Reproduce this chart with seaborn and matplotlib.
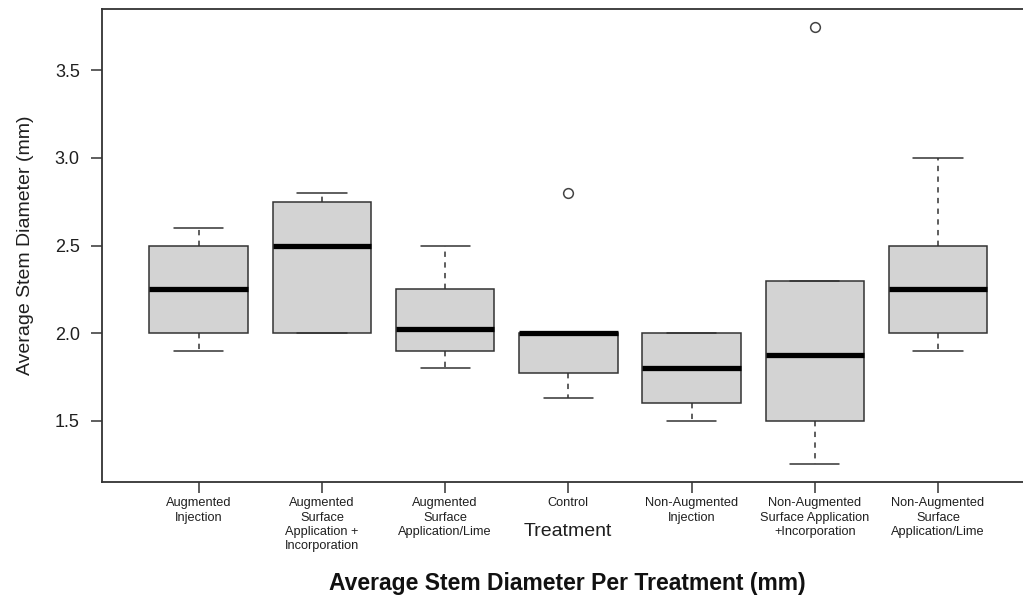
import numpy as np
import pandas as pd
import matplotlib
matplotlib.use("Agg")
import matplotlib.pyplot as plt
import seaborn as sns

# ---- data ----
treatments = [
    "Augmented Injection",
    "Augmented Surface Application + Incorporation",
    "Augmented Surface Application/Lime",
    "Control",
    "Non-Augmented Injection",
    "Non-Augmented Surface Application +Incorporation",
    "Non-Augmented Surface Application/Lime",
]
tick_labels = [
    "Augmented\nInjection",
    "Augmented\nSurface\nApplication +\nIncorporation",
    "Augmented\nSurface\nApplication/Lime",
    "Control",
    "Non-Augmented\nInjection",
    "Non-Augmented\nSurface Application\n+Incorporation",
    "Non-Augmented\nSurface\nApplication/Lime",
]
aug_injection = [1.9, 2.0, 2.25, 2.5, 2.6]
aug_surface_incorp = [2.0, 2.0, 2.5, 2.75, 2.8]
aug_surface_lime = [1.8, 1.9, 2.025, 2.25, 2.5]
control = [1.63, 1.7, 1.77, 1.9, 2.0, 2.0, 2.0, 2.0, 2.8]
nonaug_injection = [1.5, 1.6, 1.8, 2.0, 2.0]
nonaug_surface_incorp = [1.25, 1.4, 1.5, 1.7, 1.875, 2.0, 2.3, 2.3, 3.75]
nonaug_surface_lime = [1.9, 2.0, 2.25, 2.5, 3.0]
y_ticks = [1.5, 2.0, 2.5, 3.0, 3.5]

groups = [aug_injection, aug_surface_incorp, aug_surface_lime, control,
          nonaug_injection, nonaug_surface_incorp, nonaug_surface_lime]
df = pd.DataFrame({
    "Treatment": [t for t, g in zip(treatments, groups) for _ in g],
    "Diameter": [v for g in groups for v in g],
})

# ---- style ----
sns.set_style("white")
plt.rcParams["font.family"] = ["Liberation Sans", "DejaVu Sans"]
text_col = "#1f1f1f"
line_col = "#333333"

W, H = 1023, 596
fig = plt.figure(figsize=(W / 100, H / 100), dpi=100)
ax_left, ax_right, ax_top, ax_bottom = 102, 1033.5, 9, 482
ax = fig.add_axes([ax_left / W, (H - ax_bottom) / H,
                   (ax_right - ax_left) / W, (ax_bottom - ax_top) / H])

sns.boxplot(
    data=df, x="Treatment", y="Diameter", order=treatments, ax=ax,
    color="#d3d3d3", saturation=1, width=0.8, whis=1.5,
    linecolor=line_col, linewidth=1.1,
    medianprops=dict(color="black", linewidth=3.8, solid_capstyle="butt"),
    whiskerprops=dict(linestyle=(0, (3.5, 3.5)), color=line_col, linewidth=1.1),
    capprops=dict(color=line_col, linewidth=1.1),
    flierprops=dict(marker="o", markerfacecolor="none", markeredgecolor="#444444",
                    markeredgewidth=1.1, markersize=7),
)

ax.set_xlim(-0.785, 6.775)
ax.set_ylim(1.15, 3.85)
ax.set_yticks(y_ticks)
ax.set_yticklabels([f"{v:.1f}" for v in y_ticks])
ax.set_xticks(range(len(treatments)))
ax.set_xticklabels(tick_labels, fontsize=9.2, color=text_col, linespacing=1.25)
ax.tick_params(axis="y", length=8, width=1.1, color=line_col, labelsize=13,
               labelcolor=text_col, pad=8, left=True)
ax.tick_params(axis="x", length=8, width=1.1, color=line_col, pad=3, bottom=True)
for s in ax.spines.values():
    s.set_color(line_col)
    s.set_linewidth(1.3)

ax.set_ylabel("Average Stem Diameter (mm)", fontsize=14, color=text_col, labelpad=15)
ax.set_xlabel("Treatment", fontsize=14, color=text_col)
ax.xaxis.label.set_va("baseline")
ax.xaxis.set_label_coords(0.5, (ax_bottom - 536) / (ax_bottom - ax_top))

fig.suptitle("Average Stem Diameter Per Treatment (mm)", fontsize=16.5,
             fontweight="bold", color="#111111", x=(ax_left + ax_right) / 2 / W,
             y=(H - 590) / H, va="baseline")

fig.savefig("out.png", dpi=100)
